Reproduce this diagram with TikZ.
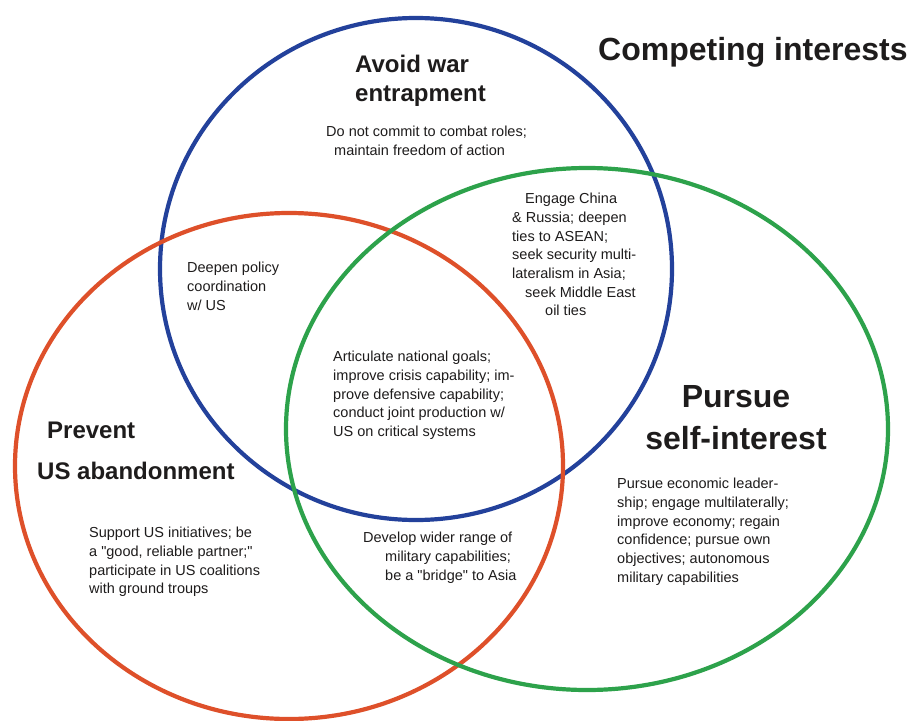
\documentclass[tikz,border=0pt]{standalone}
\usepackage{fontspec}
\setmainfont{Liberation Sans}[Ligatures=TeXOff]
\definecolor{rimblue}{RGB}{35,65,155}
\definecolor{rimred}{RGB}{222,80,42}
\definecolor{rimgreen}{RGB}{45,162,75}
\definecolor{ink}{RGB}{30,28,28}
\begin{document}
\begin{tikzpicture}[x=1pt,y=-1pt,
    rim/.style={line width=4.2pt},
    txt/.style={anchor=north west,inner sep=0pt,align=left,text=ink,font=\fontsize{14.5}{18.7}\selectfont},
    head/.style={anchor=north west,inner sep=0pt,align=left,text=ink,font=\bfseries\fontsize{24}{29}\selectfont}]
    \useasboundingbox[fill=white] (0,0) rectangle (910,720);

    % the three interests
    \draw[rim,rimblue] (416,269) ellipse [x radius=256,y radius=251];
    \draw[rim,rimred] (289,466) ellipse [x radius=274,y radius=253];
    \draw[rim,rimgreen] (587,429) ellipse [x radius=301,y radius=261];

    \node[head,font=\bfseries\fontsize{32}{36}\selectfont] (title) at (598,37) {Competing interests};
    \node[head] (avoid) at (355,55) {Avoid war\\entrapment};
    \node[head] (prevent) at (47,422) {Prevent};
    \node[head] (abandon) at (37,462) {US abandonment};
    \node[head,anchor=north,align=center,font=\bfseries\fontsize{32}{42}\selectfont] (pursue) at (736,385) {Pursue\\self-interest};

    \node[txt] (avoidtxt) at (326,126) {Do not commit to combat roles;\\\hspace*{8pt}maintain freedom of action};
    \node[txt] (engage) at (512,193) {\hspace*{13pt}Engage China\\\& Russia; deepen\\ties to ASEAN;\\seek security multi-\\lateralism in Asia;\\\hspace*{13pt}seek Middle East\\\hspace*{33pt}oil ties};
    \node[txt] (deepen) at (187,262) {Deepen policy\\coordination\\w/ US};
    \node[txt] (core) at (333,351) {Articulate national goals;\\improve crisis capability; im-\\prove defensive capability;\\conduct joint production w/\\US on critical systems};
    \node[txt] (support) at (89,527) {Support US initiatives; be\\a "good, reliable partner;"\\participate in US coalitions\\with ground troups};
    \node[txt] (develop) at (363,532) {Develop wider range of\\\hspace*{22pt}military capabilities;\\\hspace*{22pt}be a "bridge" to Asia};
    \node[txt] (selftxt) at (617,478) {Pursue economic leader-\\ship; engage multilaterally;\\improve economy; regain\\confidence; pursue own\\objectives; autonomous\\military capabilities};
\end{tikzpicture}
\end{document}
